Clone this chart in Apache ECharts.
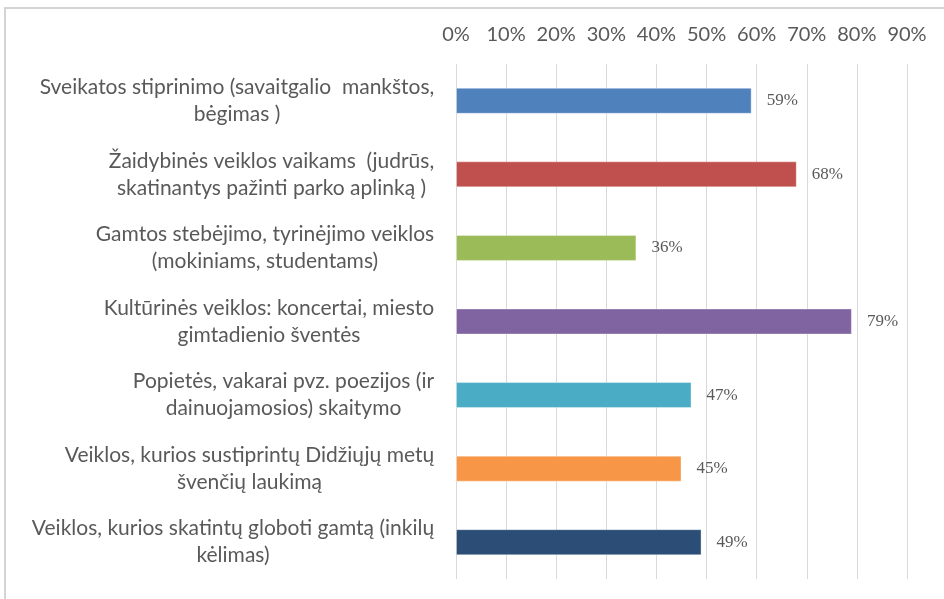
<!DOCTYPE html>
<html>
<head>
<meta charset="utf-8">
<script src="https://cdn.jsdelivr.net/npm/echarts@6/dist/echarts.min.js"></script>
<style>
  html, body { margin: 0; padding: 0; background: #fff; }
  #chart { width: 944px; height: 599px; }
</style>
</head>
<body>
<div id="chart"></div>
<script>
const categories = [
	'Sveikatos stiprinimo (savaitgalio  mankštos,\nbėgimas )',
	'Žaidybinės veiklos vaikams  (judrūs,\nskatinantys pažinti parko aplinką )',
	'Gamtos stebėjimo, tyrinėjimo veiklos\n(mokiniams, studentams)',
	'Kultūrinės veiklos: koncertai, miesto\ngimtadienio šventės',
	'Popietės, vakarai pvz. poezijos (ir\ndainuojamosios) skaitymo',
	'Veiklos, kurios sustiprintų Didžiųjų metų\nšvenčių laukimą',
	'Veiklos, kurios skatintų globoti gamtą (inkilų\nkėlimas)'
]
const values = [59, 68, 36, 79, 47, 45, 49]
const barColors = ['#4F81BD', '#C0504D', '#9BBB59', '#8064A2', '#4BACC6', '#F79646', '#2C4D75']
const tickLabels = ['0%', '10%', '20%', '30%', '40%', '50%', '60%', '70%', '80%', '90%']

const labelSize = 21
const labelFont = labelSize + 'px Lato'

// center the lines of each category label inside its own block
const ctx = document.createElement('canvas').getContext('2d')
ctx.font = labelFont
const rich = {}
categories.forEach((c, i) => {
	const w = Math.max(...c.split('\n').map(l => ctx.measureText(l).width))
	rich['l' + i] = { width: Math.ceil(w) + 1, align: 'center', fontSize: labelSize, fontFamily: 'Lato', color: '#595959', lineHeight: 27 }
})

const chart = echarts.init(document.getElementById('chart'))
chart.setOption({
	animation: false,
	graphic: [
		{
			type: 'rect',
			shape: { x: 5, y: 8, width: 1200, height: 1200 },
			style: { fill: 'none', stroke: '#d4d4d4', lineWidth: 2 },
			silent: true
		}
	],
	grid: {
		left: 456,
		right: 37,
		top: 64,
		bottom: 20
	},
	xAxis: {
		type: 'value',
		position: 'top',
		min: 0,
		max: 90,
		interval: 10,
		axisLine: { show: false },
		axisTick: { show: false },
		axisLabel: {
			margin: 19,
			fontSize: 20,
			fontFamily: 'Lato',
			color: '#595959',
			formatter: (v) => tickLabels[Math.round(v / 10)]
		},
		splitLine: { lineStyle: { color: '#d9d9d9', width: 1 } }
	},
	yAxis: {
		type: 'category',
		inverse: true,
		data: categories,
		axisLine: { show: false },
		axisTick: { show: false },
		axisLabel: {
			margin: 21,
			formatter: (v, i) => v.split('\n').map(l => '{l' + i + '|' + l + '}').join('\n'),
			rich: rich
		}
	},
	series: [
		{
			type: 'bar',
			barWidth: 26,
			data: values.map((v, i) => ({
				value: v,
				itemStyle: { color: barColors[i], borderColor: 'rgba(255,255,255,0.35)', borderWidth: 1 }
			})),
			label: {
				show: true,
				position: 'right',
				distance: 15,
				fontFamily: 'Liberation Serif',
				fontSize: 17,
				color: '#595959',
				formatter: (p) => p.value + '%'
			}
		}
	]
})
</script>
</body>
</html>
